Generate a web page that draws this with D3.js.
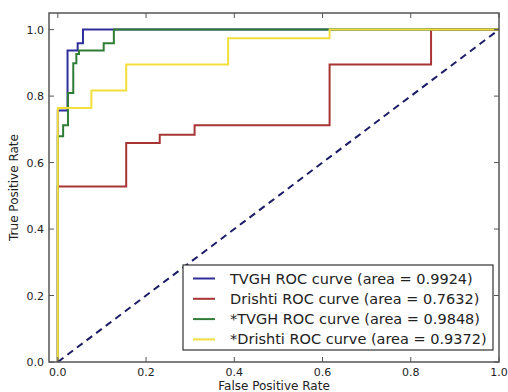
<!DOCTYPE html>
<html>
<head>
<meta charset="utf-8">
<script src="https://cdn.jsdelivr.net/npm/d3@7"></script>
<style>
  body { margin: 0; background: #fff; }
  text { font-family: "DejaVu Sans", sans-serif; fill: #222; }
</style>
</head>
<body>
<div id="chart"></div>
<script>
// ROC step curves: false positive rate / true positive rate
const tvghFpr = [0, 0, 0.022, 0.022, 0.045, 0.045, 0.057, 0.057, 1.0];
const tvghTpr = [0, 0.757, 0.757, 0.937, 0.937, 0.959, 0.959, 1.0, 1.0];

const drishtiFpr = [0, 0, 0.155, 0.155, 0.231, 0.231, 0.31, 0.31, 0.616, 0.616, 0.846, 0.846, 1.0];
const drishtiTpr = [0, 0.528, 0.528, 0.659, 0.659, 0.684, 0.684, 0.712, 0.712, 0.895, 0.895, 1.0, 1.0];

const tvgh2Fpr = [0, 0, 0.012, 0.012, 0.023, 0.023, 0.035, 0.035, 0.042, 0.042, 0.048, 0.048, 0.104, 0.104, 0.127, 0.127, 1.0];
const tvgh2Tpr = [0, 0.679, 0.679, 0.712, 0.712, 0.809, 0.809, 0.899, 0.899, 0.927, 0.927, 0.937, 0.937, 0.959, 0.959, 1.0, 1.0];

const drishti2Fpr = [0, 0, 0.076, 0.076, 0.155, 0.155, 0.386, 0.386, 0.616, 0.616, 1.0];
const drishti2Tpr = [0, 0.764, 0.764, 0.817, 0.817, 0.895, 0.895, 0.974, 0.974, 1.0, 1.0];

const seriesNames = [
  "TVGH ROC curve (area = 0.9924)",
  "Drishti ROC curve (area = 0.7632)",
  "*TVGH ROC curve (area = 0.9848)",
  "*Drishti ROC curve (area = 0.9372)",
];
const seriesColors = ["#2f2f9c", "#a83434", "#2f7d34", "#f2df3c"];
const xTicks = [0, 0.2, 0.4, 0.6, 0.8, 1.0];
const yTicks = [0, 0.2, 0.4, 0.6, 0.8, 1.0];

const series = [
  [tvghFpr, tvghTpr],
  [drishtiFpr, drishtiTpr],
  [tvgh2Fpr, tvgh2Tpr],
  [drishti2Fpr, drishti2Tpr],
].map(([f, t], i) => ({
  name: seriesNames[i],
  color: seriesColors[i],
  points: f.map((v, j) => [v, t[j]]),
}));

const W = 508, H = 392;
const margin = { left: 49, right: 499, top: 13, bottom: 362 };

const svg = d3.select("#chart").append("svg")
  .attr("width", W)
  .attr("height", H);

const x = d3.scaleLinear().domain([-0.02, 1.0]).range([margin.left, margin.right]);
const y = d3.scaleLinear().domain([0, 1.05]).range([margin.bottom, margin.top]);

const line = d3.line().x((d) => x(d[0])).y((d) => y(d[1]));

// curves (drawn in legend order, later ones on top)
series.forEach((s) => {
  svg.append("path")
    .datum(s.points)
    .attr("fill", "none")
    .attr("stroke", s.color)
    .attr("stroke-width", 2)
    .attr("d", line);
});

// chance diagonal
svg.append("path")
  .datum([[0, 0], [1, 1]])
  .attr("fill", "none")
  .attr("stroke", "#1c1c66")
  .attr("stroke-width", 2)
  .attr("stroke-dasharray", "7,5")
  .attr("d", line);

// frame
svg.append("rect")
  .attr("x", margin.left).attr("y", margin.top)
  .attr("width", margin.right - margin.left).attr("height", margin.bottom - margin.top)
  .attr("fill", "none")
  .attr("stroke", "#555")
  .attr("stroke-width", 1.5);

// inward ticks on all sides
const tickLen = 5;
svg.append("g").selectAll("line")
  .data(xTicks).enter().append("line")
  .attr("x1", (d) => x(d)).attr("x2", (d) => x(d))
  .attr("y1", margin.bottom).attr("y2", margin.bottom - tickLen)
  .attr("stroke", "#555");
svg.append("g").selectAll("line")
  .data(xTicks).enter().append("line")
  .attr("x1", (d) => x(d)).attr("x2", (d) => x(d))
  .attr("y1", margin.top).attr("y2", margin.top + tickLen)
  .attr("stroke", "#555");
svg.append("g").selectAll("line")
  .data(yTicks).enter().append("line")
  .attr("x1", margin.left).attr("x2", margin.left + tickLen)
  .attr("y1", (d) => y(d)).attr("y2", (d) => y(d))
  .attr("stroke", "#555");
svg.append("g").selectAll("line")
  .data(yTicks).enter().append("line")
  .attr("x1", margin.right).attr("x2", margin.right - tickLen)
  .attr("y1", (d) => y(d)).attr("y2", (d) => y(d))
  .attr("stroke", "#555");

// tick labels
svg.append("g").selectAll("text")
  .data(xTicks).enter().append("text")
  .attr("x", (d) => x(d))
  .attr("y", margin.bottom + 14)
  .attr("text-anchor", "middle")
  .style("font-size", "11px")
  .text((d) => d.toFixed(1));

svg.append("g").selectAll("text")
  .data(yTicks).enter().append("text")
  .attr("x", margin.left - 5)
  .attr("y", (d) => y(d) + 4)
  .attr("text-anchor", "end")
  .style("font-size", "11px")
  .text((d) => d.toFixed(1));

// axis labels
svg.append("text")
  .attr("x", (margin.left + margin.right) / 2)
  .attr("y", 390)
  .attr("text-anchor", "middle")
  .style("font-size", "12px")
  .text("False Positive Rate");

svg.append("text")
  .attr("transform", `translate(18,${(margin.top + margin.bottom) / 2}) rotate(-90)`)
  .attr("text-anchor", "middle")
  .style("font-size", "12px")
  .text("True Positive Rate");

// legend
const legend = svg.append("g").attr("transform", "translate(183,265)");
legend.append("rect")
  .attr("width", 310).attr("height", 85)
  .attr("fill", "#fff")
  .attr("stroke", "#333")
  .attr("stroke-width", 1.2);

series.forEach((s, i) => {
  const ry = 13.5 + i * 20.3;
  legend.append("line")
    .attr("x1", 10).attr("x2", 32)
    .attr("y1", ry).attr("y2", ry)
    .attr("stroke", s.color)
    .attr("stroke-width", 2);
  legend.append("text")
    .attr("x", 47)
    .attr("y", ry + 5)
    .style("font-size", "14.5px")
    .text(s.name);
});
</script>
</body>
</html>
